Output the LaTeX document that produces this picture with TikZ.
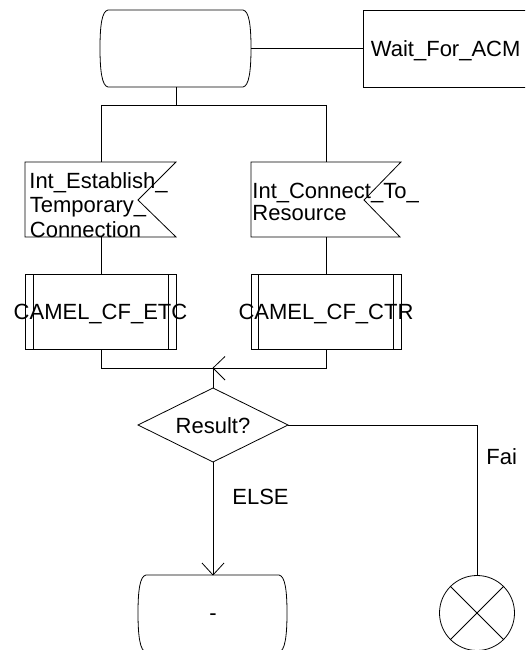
\documentclass[tikz,border=0pt]{standalone}
\usepackage{fontspec}
\setmainfont{Liberation Sans}
\begin{document}
\begin{tikzpicture}[x=1pt,y=-1pt,line width=0.8pt,
  lbl/.style={inner sep=0pt,font=\fontsize{22}{24}\selectfont},
  sdlline/.style={draw=black}]
\useasboundingbox (0,0) rectangle (525,650);
\clip (0,0) rectangle (525,650);
% key points
\coordinate (s0r) at (251,48);
\coordinate (s0b) at (176,87);
\coordinate (split) at (176,105);
\coordinate (splitL) at (101,105);
\coordinate (splitR) at (326,105);
\coordinate (in1t) at (101,162);
\coordinate (in1b) at (101,237);
\coordinate (in2t) at (326,162);
\coordinate (in2b) at (326,237);
\coordinate (p1t) at (101,274);
\coordinate (p1b) at (101,349);
\coordinate (p2t) at (326,274);
\coordinate (p2b) at (326,349);
\coordinate (joinL) at (101,368);
\coordinate (joinR) at (326,368);
\coordinate (join) at (213,368);
\coordinate (dt) at (213,388);
\coordinate (db) at (213,462);
\coordinate (dr) at (288,425);
\coordinate (corner) at (477,425);
\coordinate (stopt) at (477,575.5);
\coordinate (s1t) at (213,575);
\coordinate (waitl) at (363,48);
% top state
\draw (108,10) -- (243,10) .. controls (249,11) and (251,25) .. (251,48)
  .. controls (251,71) and (249,86) .. (243,87) -- (108,87)
  .. controls (102,86) and (100,71) .. (100,48)
  .. controls (100,25) and (102,11) .. (108,10) -- cycle;
% next state box (cut at right)
\draw (540,10) -- (363,10) -- (363,87) -- (540,87);
\node[lbl,anchor=base west] (wait) at (370.5,56.7) {Wait\_For\_ACM};
% input signals
\draw (25,162) -- (176,162) -- (138,200) -- (176,237) -- (25,237) -- cycle;
\node[lbl,anchor=base west] (in1a) at (29,188.4) {Int\_Establish\_};
\node[lbl,anchor=base west] (in1bb) at (29.5,212.7) {Temporary\_};
\node[lbl,anchor=base west] (in1c) at (29.5,237.3) {Connection};
\draw (251,162) -- (401,162) -- (364,200) -- (400,237) -- (251,237) -- cycle;
\node[lbl,anchor=base west] (in2a) at (252,198.3) {Int\_Connect\_To\_};
\node[lbl,anchor=base west] (in2bb) at (252,220) {Resource};
% procedures
\draw (25,274) rectangle (176,349);
\draw (33,274) -- (33,349) (168,274) -- (168,349);
\node[lbl,anchor=base] (p1) at (100.5,319) {CAMEL\_CF\_ETC};
\draw (251,274) rectangle (401,349);
\draw (258.5,274) -- (258.5,349) (393.5,274) -- (393.5,349);
\node[lbl,anchor=base] (p2) at (326,319) {CAMEL\_CF\_CTR};
% decision
\draw (213,388) -- (288,425) -- (213,462) -- (138,425) -- cycle;
\node[lbl,anchor=base] (res) at (213,433) {Result?};
% stop
\draw (477,613) circle[radius=37.5];
\draw (477,613) ++(45:37.5) -- ++(225:75);
\draw (477,613) ++(135:37.5) -- ++(315:75);
% bottom state
\draw (146,575) -- (279,575) .. controls (285,576) and (287,590) .. (287,613)
  .. controls (287,636) and (285,651) .. (279,652) -- (146,652)
  .. controls (140,651) and (138,636) .. (138,613)
  .. controls (138,590) and (140,576) .. (146,575) -- cycle;
\node[lbl,anchor=base] (s1) at (213,620) {-};
% labels
\node[lbl,anchor=base west] (else) at (232,504) {ELSE};
\node[lbl,anchor=base west] (fail) at (486,464) {Fai};
% connectors
\draw (s0r) -- (waitl);
\draw (s0b) -- (split);
\draw (splitL) -- (splitR);
\draw (splitL) -- (in1t);
\draw (splitR) -- (in2t);
\draw (in1b) -- (p1t);
\draw (in2b) -- (p2t);
\draw (p1b) -- (joinL) -- (joinR) -- (p2b);
\draw (join) -- (dt);
\draw (join) -- ++(12,-11.5) (join) -- ++(12,12);
\draw (dr) -- (corner) -- (stopt);
\draw (db) -- (s1t);
\draw (s1t) -- ++(-11,-12) (s1t) -- ++(11,-12);
\end{tikzpicture}
\end{document}
